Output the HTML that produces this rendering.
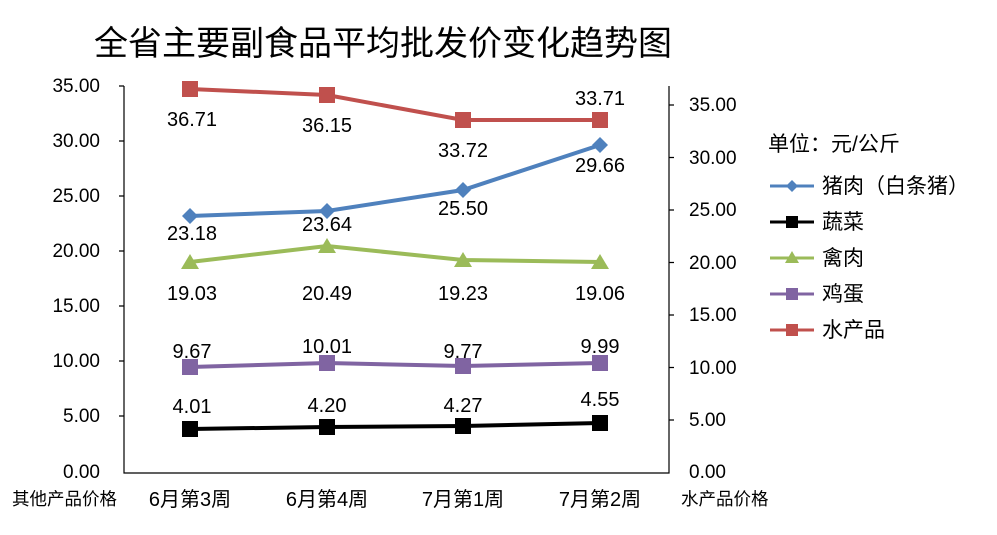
<!DOCTYPE html>
<html><head><meta charset="utf-8"><style>
body{margin:0;background:#fff}
text{font-family:"Liberation Sans","Noto Sans CJK SC",sans-serif;fill:#000}
</style></head><body>
<svg width="997" height="530" viewBox="0 0 997 530" xmlns="http://www.w3.org/2000/svg">
<text x="383" y="55" font-size="34" text-anchor="middle" font-family="Noto Sans CJK SC,sans-serif">全省主要副食品平均批发价变化趋势图</text>
<g stroke="#000" stroke-width="1.2" fill="none">
<path d="M124,86 V473 H669 V86"/>
<path d="M119,86h5M119,141h5M119,196h5M119,251h5M119,306h5M119,361h5M119,416h5"/>
<path d="M669,105h5M669,157.5h5M669,210h5M669,262.5h5M669,315h5M669,367.5h5M669,420h5"/>
</g>
<g font-size="19" text-anchor="end">
<text x="100" y="92">35.00</text><text x="100" y="147">30.00</text><text x="100" y="202">25.00</text><text x="100" y="257">20.00</text><text x="100" y="312">15.00</text><text x="100" y="367">10.00</text><text x="100" y="422">5.00</text><text x="100" y="478">0.00</text>
</g>
<g font-size="19">
<text x="689" y="111">35.00</text><text x="689" y="164">30.00</text><text x="689" y="216">25.00</text><text x="689" y="269">20.00</text><text x="689" y="321">15.00</text><text x="689" y="374">10.00</text><text x="689" y="426">5.00</text><text x="689" y="478">0.00</text>
</g>
<g font-size="17.5">
<text x="12" y="505">其他产品价格</text><text x="681" y="505">水产品价格</text>
</g>
<g font-size="20" text-anchor="middle">
<text x="190" y="506">6月第3周</text><text x="327" y="506">6月第4周</text><text x="463" y="506">7月第1周</text><text x="600" y="506">7月第2周</text>
</g>
<polyline points="190,89 327,95 463,120 600,120" fill="none" stroke="#c0504d" stroke-width="4"/>
<g fill="#c0504d"><rect x="182" y="81" width="16" height="16"/><rect x="319" y="87" width="16" height="16"/><rect x="455" y="112" width="16" height="16"/><rect x="592" y="112" width="16" height="16"/></g>
<polyline points="190,216 327,211 463,190 600,145" fill="none" stroke="#4f81bd" stroke-width="4"/>
<g fill="#4f81bd"><path d="M190,208l8,8-8,8-8-8z"/><path d="M327,203l8,8-8,8-8-8z"/><path d="M463,182l8,8-8,8-8-8z"/><path d="M600,137l8,8-8,8-8-8z"/></g>
<polyline points="190,262 327,246 463,260 600,262" fill="none" stroke="#9bbb59" stroke-width="4"/>
<g fill="#9bbb59"><path d="M190,254l9,15h-18z"/><path d="M327,238l9,15h-18z"/><path d="M463,252l9,15h-18z"/><path d="M600,254l9,15h-18z"/></g>
<polyline points="190,367 327,363 463,366 600,363" fill="none" stroke="#8064a2" stroke-width="4"/>
<g fill="#8064a2"><rect x="182" y="359" width="16" height="16"/><rect x="319" y="355" width="16" height="16"/><rect x="455" y="358" width="16" height="16"/><rect x="592" y="355" width="16" height="16"/></g>
<polyline points="190,429 327,427 463,426 600,423" fill="none" stroke="#000" stroke-width="4"/>
<g fill="#000"><rect x="182" y="421" width="16" height="16"/><rect x="319" y="419" width="16" height="16"/><rect x="455" y="418" width="16" height="16"/><rect x="592" y="415" width="16" height="16"/></g>
<g font-size="20" text-anchor="middle">
<text x="192" y="126">36.71</text><text x="327" y="132">36.15</text><text x="463" y="157">33.72</text><text x="600" y="105">33.71</text>
<text x="192" y="240">23.18</text><text x="327" y="231">23.64</text><text x="463" y="215">25.50</text><text x="600" y="172">29.66</text>
<text x="192" y="300">19.03</text><text x="327" y="300">20.49</text><text x="463" y="300">19.23</text><text x="600" y="300">19.06</text>
<text x="192" y="358">9.67</text><text x="327" y="353">10.01</text><text x="463" y="358">9.77</text><text x="600" y="353">9.99</text>
<text x="192" y="413">4.01</text><text x="327" y="412">4.20</text><text x="463" y="412">4.27</text><text x="600" y="406">4.55</text>
</g>
<g font-size="21">
<text x="768" y="151">单位：元/公斤</text>
<text x="822" y="193">猪肉（白条猪）</text><text x="822" y="229">蔬菜</text><text x="822" y="265">禽肉</text><text x="822" y="301">鸡蛋</text><text x="822" y="337">水产品</text>
</g>
<line x1="770" y1="186" x2="814" y2="186" stroke="#4f81bd" stroke-width="3"/><path d="M792,180l6,6-6,6-6-6z" fill="#4f81bd"/>
<line x1="770" y1="222" x2="814" y2="222" stroke="#000" stroke-width="3"/><rect x="786" y="216" width="12" height="12"/>
<line x1="770" y1="258" x2="814" y2="258" stroke="#9bbb59" stroke-width="3"/><path d="M792,251l7,12h-14z" fill="#9bbb59"/>
<line x1="770" y1="294" x2="814" y2="294" stroke="#8064a2" stroke-width="3"/><rect x="786" y="288" width="12" height="12" fill="#8064a2"/>
<line x1="770" y1="330" x2="814" y2="330" stroke="#c0504d" stroke-width="3"/><rect x="786" y="324" width="12" height="12" fill="#c0504d"/>
</svg>
</body></html>
